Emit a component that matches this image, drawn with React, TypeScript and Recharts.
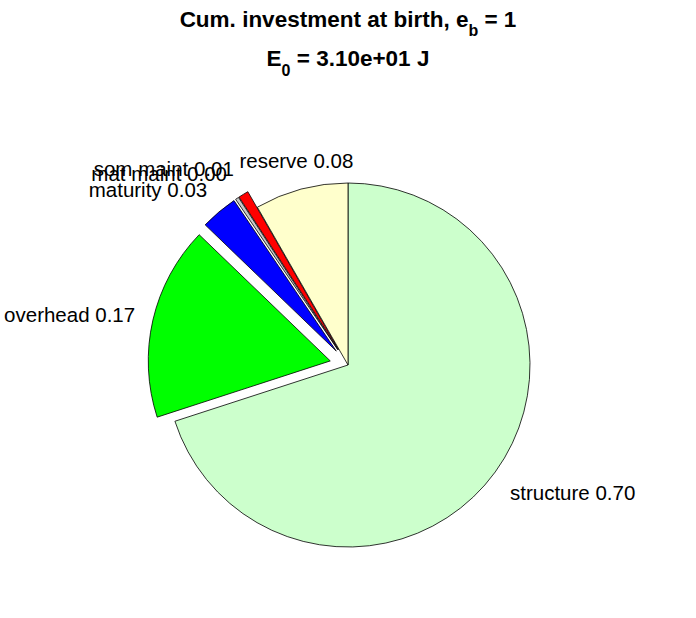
import { PieChart, Pie, Cell } from 'recharts'

const names = ['structure', 'overhead', 'maturity', 'mat maint', 'som maint', 'reserve']
const fractions = [0.7, 0.172, 0.033, 0.003, 0.009, 0.083]
const exploded = [false, true, true, true, true, false]
const colors = ['#ccffcc', '#00ff00', '#0000ff', '#c8c8c8', '#ff0000', '#ffffcc']

const CX = 348
const CY = 365
const R = 182
const FONT = '"Liberation Sans", Arial, Helvetica, sans-serif'

const data = names.map((name, i) => ({ name, value: fractions[i] }))
const total = fractions.reduce((a, b) => a + b, 0)

// mid angle of slice i, clockwise from 12 o'clock (recharts convention: degrees ccw from 3 o'clock)
function midAngleOf(i: number) {
  const before = fractions.slice(0, i).reduce((a, b) => a + b, 0)
  return 90 - ((before + fractions[i] / 2) / total) * 360
}

function makeLabel(i: number) {
  return (props: any) => {
    if (props.index !== i) return null
    const rad = (props.midAngle * Math.PI) / 180
    const ux = Math.cos(rad)
    const uy = -Math.sin(rad)
    const x = props.cx + 1.1 * props.outerRadius * ux
    const y = props.cy + 1.1 * props.outerRadius * uy + uy * 14 + 2
    const anchor = Math.abs(ux) < 0.3 ? 'middle' : ux > 0 ? 'start' : 'end'
    return (
      <text
        x={x}
        y={y}
        textAnchor={anchor}
        dominantBaseline="central"
        fontSize={20.5}
        fontFamily={FONT}
        fill="#000"
      >
        {`${names[i]} ${fractions[i].toFixed(2)}`}
      </text>
    )
  }
}

export default function App() {
  return (
    <div style={{ position: 'absolute', left: 0, top: 0, width: 696, height: 618, background: '#fff' }}>
      <PieChart width={696} height={618} margin={{ top: 0, right: 0, bottom: 0, left: 0 }}>
        {names.map((_, i) => {
          const off = exploded[i] ? 0.1 * R : 0
          const rad = (midAngleOf(i) * Math.PI) / 180
          return (
            <Pie
              key={i}
              data={data}
              dataKey="value"
              nameKey="name"
              cx={CX + off * Math.cos(rad)}
              cy={CY - off * Math.sin(rad)}
              innerRadius={0}
              outerRadius={R}
              startAngle={90}
              endAngle={-270}
              stroke="#000"
              strokeWidth={0.8}
              labelLine={false}
              label={makeLabel(i)}
              isAnimationActive={false}
            >
              {data.map((d, j) => (
                <Cell
                  key={d.name}
                  fill={j === i ? colors[j] : 'none'}
                  stroke={j === i ? '#000' : 'none'}
                />
              ))}
            </Pie>
          )
        })}
      </PieChart>
      <svg
        width={696}
        height={100}
        style={{ position: 'absolute', left: 0, top: 0, pointerEvents: 'none' }}
      >
        <text x={348} y={27} textAnchor="middle" fontSize={22.5} fontWeight="bold" fontFamily={FONT} fill="#000">
          Cum. investment at birth, e
          <tspan dy={9} fontSize={16}>b</tspan>
          <tspan dy={-9}> = 1</tspan>
        </text>
        <text x={348} y={66} textAnchor="middle" fontSize={22.5} fontWeight="bold" fontFamily={FONT} fill="#000">
          E
          <tspan dy={10} fontSize={16}>0</tspan>
          <tspan dy={-10}> = 3.10e+01 J</tspan>
        </text>
      </svg>
    </div>
  )
}
